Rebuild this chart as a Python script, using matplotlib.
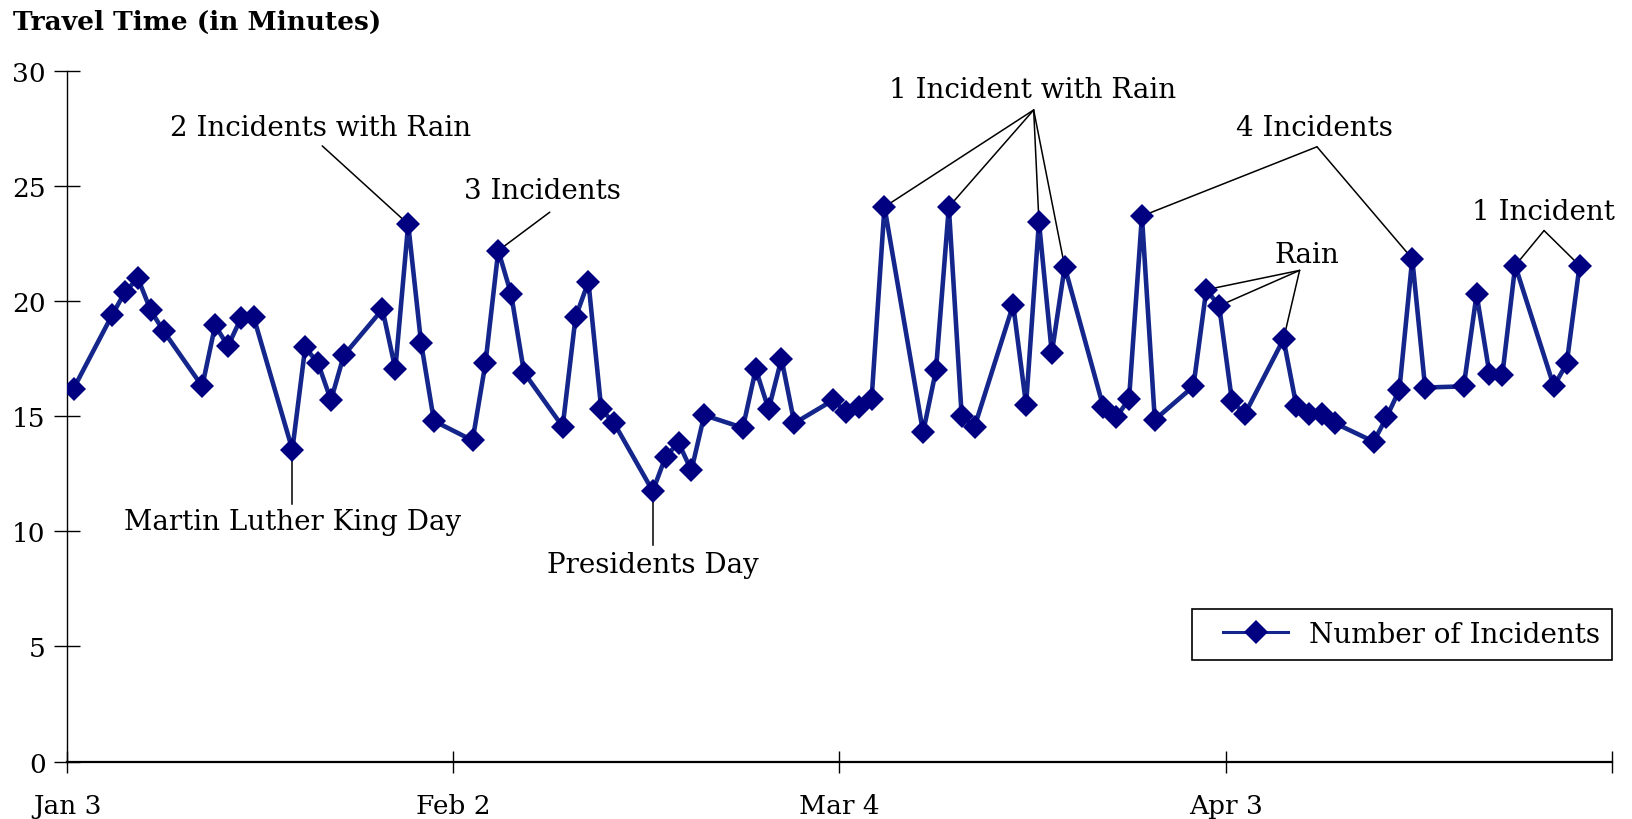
"""Daily travel time Jan-Apr 2003 with incident / holiday call-outs.

Output: out.png
"""
import matplotlib
matplotlib.use("Agg")
import matplotlib.pyplot as plt
from matplotlib.legend_handler import HandlerLine2D
import numpy as np
import pandas as pd

plt.rcParams["font.family"] = ["DejaVu Serif", "DejaVu Sans"]

# ── data (weekdays, 2003) ────────────────────────────────────────────────────
DATES = [
    "2003-01-03",
    "2003-01-06", "2003-01-07", "2003-01-08", "2003-01-09", "2003-01-10",
    "2003-01-13", "2003-01-14", "2003-01-15", "2003-01-16", "2003-01-17",
    "2003-01-20", "2003-01-21", "2003-01-22", "2003-01-23", "2003-01-24",
    "2003-01-27", "2003-01-28", "2003-01-29", "2003-01-30", "2003-01-31",
    "2003-02-03", "2003-02-04", "2003-02-05", "2003-02-06", "2003-02-07",
    "2003-02-10", "2003-02-11", "2003-02-12", "2003-02-13", "2003-02-14",
    "2003-02-17", "2003-02-18", "2003-02-19", "2003-02-20", "2003-02-21",
    "2003-02-24", "2003-02-25", "2003-02-26", "2003-02-27", "2003-02-28",
    "2003-03-03", "2003-03-04", "2003-03-05", "2003-03-06", "2003-03-07",
    "2003-03-10", "2003-03-11", "2003-03-12", "2003-03-13", "2003-03-14",
    "2003-03-17", "2003-03-18", "2003-03-19", "2003-03-20", "2003-03-21",
    "2003-03-24", "2003-03-25", "2003-03-26", "2003-03-27", "2003-03-28",
    "2003-03-31", "2003-04-01", "2003-04-02", "2003-04-03", "2003-04-04",
    "2003-04-07", "2003-04-08", "2003-04-09", "2003-04-10", "2003-04-11",
    "2003-04-14", "2003-04-15", "2003-04-16", "2003-04-17", "2003-04-18",
    "2003-04-21", "2003-04-22", "2003-04-23", "2003-04-24", "2003-04-25",
    "2003-04-28", "2003-04-29", "2003-04-30",
]
TRAVEL_MIN = [
    16.2,
    19.4, 20.4, 21.0, 19.6, 18.7,
    16.3, 18.95, 18.05, 19.25, 19.3,
    13.55, 18.0, 17.3, 15.7, 17.65,
    19.65, 17.05, 23.35, 18.2, 14.8,
    13.95, 17.3, 22.2, 20.3, 16.9,
    14.55, 19.3, 20.85, 15.3, 14.7,
    11.75, 13.25, 13.85, 12.65, 15.05,
    14.5, 17.05, 15.3, 17.5, 14.7,
    15.7, 15.2, 15.4, 15.75, 24.1,
    14.3, 17.0, 24.1, 15.0, 14.55,
    19.85, 15.5, 23.45, 17.75, 21.5,
    15.4, 14.95, 15.75, 23.7, 14.85,
    16.3, 20.5, 19.8, 15.65, 15.1,
    18.35, 15.45, 15.1, 15.1, 14.7,
    13.9, 14.95, 16.15, 21.85, 16.25,
    16.3, 20.3, 16.85, 16.8, 21.55,
    16.3, 17.3, 21.55,
]
TICK_DATES = ["2003-01-03", "2003-02-02", "2003-03-04", "2003-04-03", "2003-05-03"]
Y_TICKS = [0, 5, 10, 15, 20, 25, 30]

# call-outs above the line: text, text centre, line apex, dates pointed at
INCIDENT_NOTES = [
    ("2 Incidents with Rain", (19.7, 27.55), (19.82, 26.75), ["2003-01-29"]),
    ("3 Incidents", (36.96, 24.82), (37.5, 23.87), ["2003-02-05"]),
    ("1 Incident with Rain", (74.98, 29.22), (75.09, 28.31),
     ["2003-03-07", "2003-03-12", "2003-03-19", "2003-03-21"]),
    ("4 Incidents", (96.9, 27.53), (97.1, 26.71), ["2003-03-27", "2003-04-17"]),
    ("Rain", (96.29, 22.02), (95.75, 21.34),
     ["2003-04-01", "2003-04-02", "2003-04-07"]),
    ("1 Incident", (114.73, 23.9), (114.74, 23.07), ["2003-04-25", "2003-04-30"]),
]
# holidays below the line: text, date, text y, line end y
HOLIDAY_NOTES = [
    ("Martin Luther King Day", "2003-01-20", 10.45, 11.21),
    ("Presidents Day", "2003-02-17", 8.55, 9.41),
]

LINE_COLOR = "#14268c"
MARKER_COLOR = "#000080"
NOTE_SIZE = 20


def main() -> None:
    start = pd.Timestamp(TICK_DATES[0])
    # points sit in the middle of their day slot
    x = (pd.to_datetime(DATES) - start).days.to_numpy() + 0.5
    y = np.array(TRAVEL_MIN)
    pos = dict(zip(DATES, zip(x, y)))

    fig = plt.figure(figsize=(16.32, 8.2), dpi=100)
    ax = fig.add_axes([0.0411, 0.0701, 0.9465, 0.8420])

    line, = ax.plot(x, y, color=LINE_COLOR, lw=3.3, marker="D", ms=12,
                    mfc=MARKER_COLOR, mec=MARKER_COLOR, mew=0, zorder=3,
                    label="Number of Incidents")

    # ── call-outs ───────────────────────────────────────────────────────────
    for text, (tx, ty), apex, targets in INCIDENT_NOTES:
        ax.text(tx, ty, text, fontsize=NOTE_SIZE, ha="center", va="center")
        for d in targets:
            ax.annotate("", xy=pos[d], xytext=apex, zorder=1,
                        arrowprops=dict(arrowstyle="-", lw=1.1, color="black",
                                        shrinkA=0, shrinkB=0))

    for text, d, ty, y_end in HOLIDAY_NOTES:
        px, py = pos[d]
        ax.plot([px, px], [py, y_end], color="black", lw=1.1, zorder=1)
        ax.text(px, ty, text, fontsize=NOTE_SIZE, ha="center", va="center")

    # ── axes ────────────────────────────────────────────────────────────────
    tick_x = (pd.to_datetime(TICK_DATES) - start).days.to_numpy()
    tick_lbl = [pd.Timestamp(d).strftime("%b ") + str(pd.Timestamp(d).day)
                for d in TICK_DATES]
    tick_lbl[-1] = ""
    ax.set_xticks(tick_x)
    ax.set_xticklabels(tick_lbl)
    ax.set_yticks(Y_TICKS)
    ax.set_xlim(tick_x[0], tick_x[-1])
    ax.set_ylim(0, 30)

    for side in ("top", "right"):
        ax.spines[side].set_visible(False)
    ax.spines["left"].set_linewidth(1.0)
    ax.spines["bottom"].set_linewidth(1.6)
    ax.tick_params(axis="y", direction="inout", length=19, width=1.0,
                   labelsize=19, pad=6)
    ax.tick_params(axis="x", direction="inout", length=16, width=1.0,
                   labelsize=19, pad=15)

    # legend: extra left padding via handler xpad, thinner line in the key
    def _thin(legend_line, orig):
        legend_line.update_from(orig)
        legend_line.set_linewidth(2.2)

    leg = ax.legend(handles=[line], loc="lower right",
                    bbox_to_anchor=(1.0, 0.1474), borderaxespad=0,
                    fontsize=20, frameon=True, fancybox=False,
                    edgecolor="black", framealpha=1, borderpad=0.42,
                    handlelength=3.05, handletextpad=0.75,
                    handler_map={line: HandlerLine2D(xpad=0.7,
                                                     update_func=_thin)})
    leg.get_frame().set_linewidth(1.2)

    fig.text(0.0082, 1 - 22 / 820, "Travel Time (in Minutes)", fontsize=19,
             fontweight="bold", ha="left", va="center")

    fig.savefig("out.png", dpi=100)
    plt.close(fig)


if __name__ == "__main__":
    main()
